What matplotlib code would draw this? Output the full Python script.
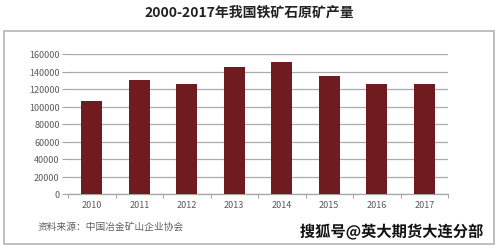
import numpy as np
import matplotlib.pyplot as plt
from matplotlib.patches import Rectangle
import matplotlib.patheffects as pe

plt.rcParams['font.family'] = ['Noto Sans CJK SC', 'DejaVu Sans']

# 数据
years = ["2010", "2011", "2012", "2013", "2014", "2015", "2016", "2017"]
output = [106500, 130700, 126100, 144600, 151400, 135300, 126100, 126100]
y_ticks = [0, 20000, 40000, 60000, 80000, 100000, 120000, 140000, 160000]

title = "2000-2017年我国铁矿石原矿产量"
source = "资料来源：中国冶金矿山企业协会"
watermark = "搜狐号@英大期货大连分部"

bar_color = "#6f1b1f"
text_gray = "#595959"

fig = plt.figure(figsize=(4.99, 2.51), dpi=100)

# 外框
fig.patches.append(Rectangle((4 / 499, 1 - 245 / 251), 490 / 499, 213 / 251,
                             transform=fig.transFigure, fill=False,
                             edgecolor="#b4b4b4", linewidth=1.2))

ax = fig.add_axes([68 / 499, 1 - 195 / 251, 380 / 499, 140 / 251])

x = np.arange(len(years))
ax.bar(x, output, width=0.45, color=bar_color, zorder=3)

ax.set_xlim(-0.5, len(years) - 0.5)
ax.set_ylim(0, 160000)
ax.set_yticks(y_ticks)
ax.set_yticklabels([str(v) for v in y_ticks])
ax.set_xticks(x)
ax.set_xticklabels(years)
ax.set_xticks(np.arange(-0.5, len(years), 1), minor=True)

ax.grid(axis="y", color="#ababab", linewidth=0.9, zorder=0)
for sp in ["top", "right", "left"]:
    ax.spines[sp].set_visible(False)
ax.spines["bottom"].set_color("#a6a6a6")
ax.spines["bottom"].set_linewidth(0.9)

ax.tick_params(axis="x", which="major", length=0, labelsize=6.5,
               labelcolor=text_gray, pad=4)
ax.tick_params(axis="x", which="minor", length=3, color="#a6a6a6", width=0.8)
ax.tick_params(axis="y", length=4, color="#a6a6a6", width=0.8,
               labelsize=6.5, labelcolor=text_gray, pad=2)

fig.text(0.5, 1 - 13 / 251, title, ha="center", va="center",
         fontsize=10, fontweight="bold", color="#222222")

fig.text(38 / 499, 1 - 227 / 251, source, ha="left", va="center",
         fontsize=7, color="#606060")

fig.text(483 / 499, 1 - 233 / 251, watermark, ha="right", va="center",
         fontsize=11, fontweight="bold", color="#111111",
         path_effects=[pe.withStroke(linewidth=2, foreground="white")])

plt.savefig("out.png", dpi=100)
